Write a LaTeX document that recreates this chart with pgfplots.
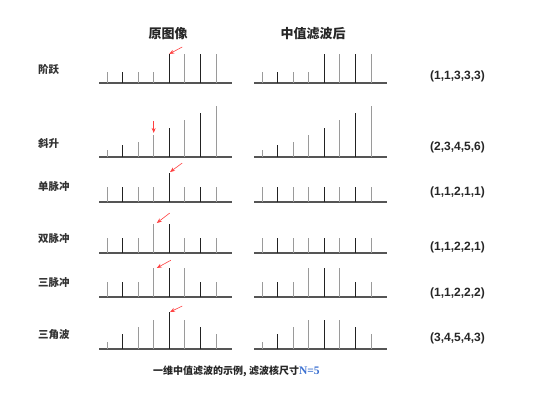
\documentclass[border=0pt]{standalone}
\usepackage{pgfplots}
\pgfplotsset{compat=1.18}
\usetikzlibrary{arrows.meta}
\usepackage{fontspec}
\setmainfont{Liberation Sans}
\newfontfamily\cjk{Noto Sans CJK SC}
\newfontfamily\serifb{Liberation Serif}
\definecolor{dk}{HTML}{222222}
\definecolor{lt}{HTML}{9A9A9A}
\definecolor{basec}{HTML}{555555}
\definecolor{arr}{HTML}{FF4040}
\definecolor{capblue}{HTML}{3A6FD0}
\pgfplotsset{panel/.style={hide axis, scale only axis, x=15.57pt, y=7.35pt,
  xmin=0.5, xmax=9.03, ymin=0, ymax=6, clip=false, anchor=south west}}
\newcommand\stems[8]{%
  \addplot[basec, line width=1.1pt] coordinates {(0.5,0) (9.03,0)};
  \addplot[ycomb, dk, line width=0.9pt, mark=none] coordinates {(2,#2) (5,#5) (7,#7)};
  \addplot[ycomb, lt, line width=0.9pt, mark=none] coordinates {(1,#1) (3,#3) (4,#4) (6,#6) (8,#8)};
}
\tikzset{redarr/.style={arr, line width=0.6pt, -{Stealth[length=5pt,width=4pt]}}}
\begin{document}
\begin{tikzpicture}
\useasboundingbox (0,0) rectangle (541pt,-400pt);
% titles
\node[font=\cjk\bfseries\fontsize{13}{15}\selectfont, text=black!85] at (168pt,-34pt) {原图像};
\node[font=\cjk\bfseries\fontsize{13}{15}\selectfont, text=black!85] at (313pt,-34pt) {中值滤波后};
% row 1
\begin{axis}[panel, at={(99.2pt,-83pt)}]
\stems{1.5}{1.5}{1.5}{1.5}{4}{4}{4}{4}
\draw[redarr] (axis cs:5.83,4.9) -- (axis cs:5.0,3.95);
\end{axis}
\begin{axis}[panel, at={(254.2pt,-83pt)}]
\stems{1.5}{1.5}{1.5}{1.5}{4}{4}{4}{4}
\end{axis}
% row 2
\begin{axis}[panel, at={(99.2pt,-157pt)}]
\stems{1}{1.6}{2}{3}{4}{5}{6}{7}
\draw[redarr] (axis cs:4,4.9) -- (axis cs:4,3.27);
\end{axis}
\begin{axis}[panel, at={(254.2pt,-157pt)}]
\stems{1}{1.6}{2}{3}{4}{5}{6}{7}
\end{axis}
% row 3
\begin{axis}[panel, at={(99.2pt,-202pt)}]
\stems{2}{2}{2}{2}{4}{2}{2}{2}
\draw[redarr] (axis cs:5.83,5.3) -- (axis cs:5.05,4.08);
\end{axis}
\begin{axis}[panel, at={(254.2pt,-202pt)}]
\stems{2}{2}{2}{2}{2}{2}{2}{2}
\end{axis}
% row 4
\begin{axis}[panel, at={(99.2pt,-253pt)}]
\stems{2}{2}{2}{4}{4}{2}{2}{2}
\draw[redarr] (axis cs:5.03,5.44) -- (axis cs:4.2,4.08);
\end{axis}
\begin{axis}[panel, at={(254.2pt,-253pt)}]
\stems{2}{2}{2}{2}{2}{2}{2}{2}
\end{axis}
% row 5
\begin{axis}[panel, at={(99.2pt,-297pt)}]
\stems{2}{2}{2}{4}{4}{4}{2}{2}
\draw[redarr] (axis cs:5.1,5.0) -- (axis cs:4.2,3.95);
\end{axis}
\begin{axis}[panel, at={(254.2pt,-297pt)}]
\stems{2}{2}{2}{4}{4}{4}{2}{2}
\end{axis}
% row 6
\begin{axis}[panel, at={(99.2pt,-349pt)}]
\stems{1}{2}{3}{4}{5}{4}{3}{2}
\draw[redarr] (axis cs:5.83,5.85) -- (axis cs:5.05,5.03);
\end{axis}
\begin{axis}[panel, at={(254.2pt,-349pt)}]
\stems{1}{2}{3}{4}{4}{4}{3}{2}
\end{axis}
% row labels
\begin{scope}[every node/.style={anchor=west, font=\cjk\bfseries\fontsize{10.5}{12}\selectfont, text=black!80, inner sep=0pt}]
\node at (38pt,-69pt) {阶跃};
\node at (38pt,-143pt) {斜升};
\node at (38pt,-187pt) {单脉冲};
\node at (38pt,-239pt) {双脉冲};
\node at (38pt,-283pt) {三脉冲};
\node at (38pt,-335pt) {三角波};
\end{scope}
% right labels
\begin{scope}[every node/.style={anchor=west, font=\bfseries\fontsize{12}{14}\selectfont, text=black!85, inner sep=0pt}]
\node at (430pt,-76pt) {(1,1,3,3,3)};
\node at (430pt,-147pt) {(2,3,4,5,6)};
\node at (430pt,-192pt) {(1,1,2,1,1)};
\node at (430pt,-247pt) {(1,1,2,2,1)};
\node at (430pt,-293pt) {(1,1,2,2,2)};
\node at (430pt,-338pt) {(3,4,5,4,3)};
\end{scope}
% caption
\node[anchor=west, inner sep=0pt, text=black!85] at (153pt,-371pt) {{\cjk\bfseries\fontsize{10}{12}\selectfont 一维中值滤波的示例, 滤波核尺寸}{\serifb\bfseries\fontsize{11.5}{12}\selectfont\color{capblue}N=5}};
\end{tikzpicture}
\end{document}
